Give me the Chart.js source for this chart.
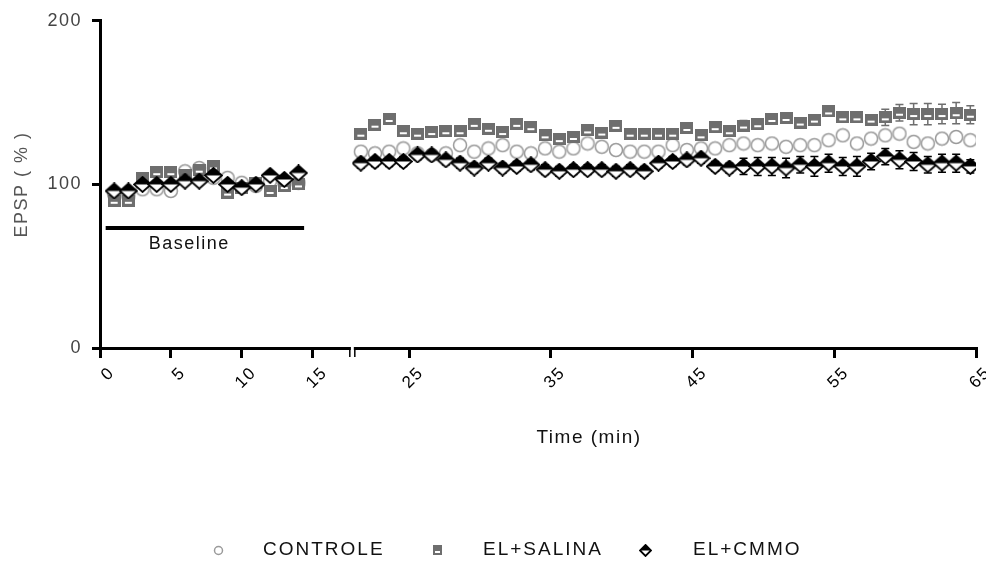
<!DOCTYPE html>
<html>
<head>
<meta charset="utf-8">
<script src="https://cdn.jsdelivr.net/npm/chart.js@4.4.1/dist/chart.umd.min.js"></script>
<style>
html, body { margin: 0; padding: 0; background: #fff; }
#wrap { position: relative; width: 986px; height: 563px; }
</style>
</head>
<body>
<div id="wrap"><canvas id="c" width="986" height="563"></canvas></div>
<script>
// series names
var seriesNames = ['CONTROLE', 'EL+SALINA', 'EL+CMMO'];

// baseline period (min)
var baseTimes = [1, 2, 3, 4, 5, 6, 7, 8, 9, 10, 11, 12, 13, 14];
var controleBase = [94, 93, 97, 97, 96, 108, 110, 104, 104, 101, 99, 102, 101, 101];
var salinaBase = [90, 90, 104, 107.5, 107.5, 106, 109, 111, 95, 98, 101, 96, 99, 100];
var cmmoBase = [96, 96, 100, 100, 100, 102, 102, 105.5, 100, 98, 100, 105.5, 103, 107];

// after stimulation (min)
var postTimes = [21.6, 22.6, 23.6, 24.6, 25.6, 26.6, 27.6, 28.6, 29.6, 30.6, 31.6,
  32.6, 33.6, 34.6, 35.6, 36.6, 37.6, 38.6, 39.6, 40.6, 41.6, 42.6, 43.6, 44.6,
  45.6, 46.6, 47.6, 48.6, 49.6, 50.6, 51.6, 52.6, 53.6, 54.6, 55.6, 56.6, 57.6,
  58.6, 59.6, 60.6, 61.6, 62.6, 63.6, 64.6];
var controlePost = [120, 119, 120, 122, 119, 118, 119, 124, 120, 122, 124, 120, 119, 122,
  120, 122, 125, 123, 121, 120, 120, 120, 124, 121, 122, 122, 124, 125,
  124, 125, 123, 124, 124, 127, 130, 125, 128, 130, 131, 126, 125, 128, 129, 127];
var salinaPost = [131, 136.5, 140, 132.5, 131, 132, 132.5, 132.5, 137, 134, 132, 137, 135, 130,
  127.7, 129, 133, 131.7, 135.8, 131, 131, 131, 131, 134.5, 130, 135, 132.5, 136,
  136.8, 140, 140.6, 137.8, 139.6, 144.6, 141, 141, 139.6, 141, 143.8, 143, 143, 143, 143.5, 142.6];
var cmmoPost = [113, 114, 114, 114, 118, 118, 115, 113, 110, 113, 110, 111, 112, 109,
  108, 109, 109, 109, 108, 109, 108, 113, 114, 115, 116, 111, 110, 111,
  111, 111, 110, 112, 111, 113, 111, 111, 114, 117, 115, 114, 112, 113, 113, 111];

// SEM (only the larger ones show past the markers)
var salinaPostSem = [3, 3, 3, 3, 3, 3, 3, 3, 3, 3, 3, 3, 3, 3,
  3, 3, 3, 3, 3, 3, 3, 3, 3, 3, 3, 3, 3, 3,
  3, 3, 3, 3, 3, 3, 3, 3, 3, 5, 5, 6.5, 6.5, 6, 6.5, 5.5];
var cmmoPostSem = [3, 3, 3, 3, 3, 3, 3, 3, 3, 3, 3, 3, 3, 3,
  3, 3, 3, 3, 3, 3, 3, 3, 3, 3, 3, 3, 3, 5,
  5.5, 5.5, 6, 5, 6, 5.5, 5.5, 6, 5, 5, 5.5, 5.5, 5, 5.5, 5.5, 4];

// baseline bar
var baselineX = [0.4, 14.4];
var baselineY = [73.3, 73.3];

// ticks
var leftTicks = [0, 5, 10, 15];
var rightTicks = [25, 35, 45, 55, 65];
var yTicks = [0, 100, 200];

var FONT = "'Liberation Sans', Arial, sans-serif";
Chart.defaults.font.family = FONT;

// marker glyphs
function circleMark(d) {
  var c = document.createElement('canvas');
  c.width = d + 3; c.height = d + 3;
  var g = c.getContext('2d');
  g.beginPath();
  g.arc(c.width / 2, c.height / 2, d / 2, 0, Math.PI * 2);
  g.fillStyle = '#fff'; g.fill();
  g.lineWidth = 1.5; g.strokeStyle = '#9a9a9a'; g.stroke();
  return c;
}
function squareMark(w, h) {
  var c = document.createElement('canvas');
  c.width = w; c.height = h;
  var g = c.getContext('2d');
  g.fillStyle = '#6e6e6e'; g.fillRect(0, 0, w, h);
  g.fillStyle = '#fff'; g.fillRect(Math.round(w * 0.22), Math.round(h * 0.55), Math.round(w * 0.56), Math.max(2, Math.round(h * 0.18)));
  return c;
}
function diamondMark(w, h) {
  var c = document.createElement('canvas');
  c.width = w + 2; c.height = h + 2;
  var g = c.getContext('2d');
  var cx = c.width / 2, cy = c.height / 2;
  g.beginPath();
  g.moveTo(cx, 1); g.lineTo(cx + w / 2, cy); g.lineTo(cx, cy + h / 2); g.lineTo(cx - w / 2, cy); g.closePath();
  g.fillStyle = '#fff'; g.fill();
  g.lineWidth = 1.8; g.strokeStyle = '#000'; g.stroke();
  g.beginPath();
  g.moveTo(cx, 1); g.lineTo(cx + w / 2, cy); g.lineTo(cx - w / 2, cy); g.closePath();
  g.fillStyle = '#000'; g.fill();
  return c;
}

var circleImg = circleMark(13), squareImg = squareMark(13, 12), diamondImg = diamondMark(17, 15);
var legendImgs = [circleMark(8), squareMark(9, 10), diamondMark(11, 11)];

function pts(xs, ys) {
  return xs.map(function (x, i) { return { x: x, y: ys[i] }; });
}
function markSet(label, xs, ys, img, axis, order, sem, semColor) {
  return { label: label, data: pts(xs, ys), xAxisID: axis, pointStyle: img, pointRadius: 7, order: order, showLine: false, sem: sem, semColor: semColor };
}

function fixTicks(list) {
  return function (scale) { scale.ticks = list.map(function (v) { return { value: v }; }); };
}

var xCommon = function (min, max, weight, ticks) {
  return {
    type: 'linear', position: 'bottom', stack: 'time', stackWeight: weight,
    min: min, max: max,
    afterBuildTicks: fixTicks(ticks),
    afterFit: function (s) { s.height = 62; s.paddingLeft = 0; s.paddingRight = 0; },
    grid: { drawOnChartArea: false, color: '#000', lineWidth: 3, tickLength: 10 },
    border: { color: '#000', width: 3 },
    ticks: { minRotation: 45, maxRotation: 45, color: '#000', padding: 5, labelOffset: 12, font: { size: 17 } }
  };
};

// error bars, drawn under the markers
var errorBars = {
  id: 'errorBars',
  beforeDatasetsDraw: function (chart) {
    var ctx = chart.ctx, y = chart.scales.y;
    ctx.save();
    ctx.lineWidth = 1.5;
    chart.data.datasets.forEach(function (ds, di) {
      if (!ds.sem) return;
      var xs = chart.scales[ds.xAxisID];
      ctx.strokeStyle = ds.semColor;
      ds.data.forEach(function (p, i) {
        var px = xs.getPixelForValue(p.x);
        var hi = y.getPixelForValue(p.y + ds.sem[i]), lo = y.getPixelForValue(p.y - ds.sem[i]);
        ctx.beginPath();
        ctx.moveTo(px, hi); ctx.lineTo(px, lo);
        ctx.moveTo(px - 4, hi); ctx.lineTo(px + 4, hi);
        ctx.moveTo(px - 4, lo); ctx.lineTo(px + 4, lo);
        ctx.stroke();
      });
    });
    ctx.restore();
  }
};

var breakMarks = {
  id: 'breakMarks',
  beforeUpdate: function (chart) { chart.ctx.letterSpacing = '1.5px'; },
  beforeDraw: function (chart) { chart.ctx.letterSpacing = '1.5px'; },
  afterDraw: function (chart) {
    var ctx = chart.ctx, xl = chart.scales.xL, y = chart.scales.y;
    var bx = xl.right, by = chart.chartArea.bottom;
    ctx.save();
    // axis break
    ctx.fillStyle = '#fff';
    ctx.fillRect(bx - 1.5, by - 3, 3, 7);
    ctx.strokeStyle = '#000'; ctx.lineWidth = 1.5;
    ctx.beginPath();
    ctx.moveTo(bx - 2.5, by - 1); ctx.lineTo(bx - 2.5, by + 9);
    ctx.moveTo(bx + 2.5, by - 1); ctx.lineTo(bx + 2.5, by + 9);
    ctx.stroke();

    // baseline label
    ctx.fillStyle = '#111';
    ctx.font = '18px ' + FONT;
    ctx.letterSpacing = '1.5px';
    ctx.textAlign = 'center'; ctx.textBaseline = 'middle';
    ctx.fillText('Baseline', xl.getPixelForValue(6.3), y.getPixelForValue(63.5));

    // x title
    ctx.font = '19px ' + FONT;
    ctx.fillText('Time (min)', 589, 438);

    // legend
    var mx = [218, 437, 645], tx = [263, 483, 693];
    ctx.textAlign = 'left';
    ctx.letterSpacing = '2px';
    for (var i = 0; i < seriesNames.length; i++) {
      var im = legendImgs[i];
      ctx.drawImage(im, Math.round(mx[i] - im.width / 2), Math.round(550 - im.height / 2));
      ctx.fillText(seriesNames[i], tx[i], 550);
    }
    ctx.restore();
  }
};

new Chart(document.getElementById('c'), {
  type: 'scatter',
  data: {
    datasets: [
      { label: 'Baseline', type: 'line', data: pts(baselineX, baselineY), xAxisID: 'xL', borderColor: '#000', borderWidth: 4, pointRadius: 0, showLine: true, order: 0 },
      markSet(seriesNames[2], baseTimes, cmmoBase, diamondImg, 'xL', 1),
      markSet(seriesNames[2], postTimes, cmmoPost, diamondImg, 'xR', 1, cmmoPostSem, '#000'),
      markSet(seriesNames[1], baseTimes, salinaBase, squareImg, 'xL', 2),
      markSet(seriesNames[1], postTimes, salinaPost, squareImg, 'xR', 2, salinaPostSem, '#6e6e6e'),
      markSet(seriesNames[0], baseTimes, controleBase, circleImg, 'xL', 3),
      markSet(seriesNames[0], postTimes, controlePost, circleImg, 'xR', 3)
    ]
  },
  options: {
    responsive: false,
    animation: false,
    layout: { padding: { top: 7, right: 10, bottom: 153, left: 0 } },
    plugins: { legend: { display: false }, tooltip: { enabled: false } },
    scales: {
      xL: xCommon(0, 17.8, 17.8, leftTicks),
      xR: xCommon(21, 65, 44, rightTicks),
      y: {
        type: 'linear', position: 'left', min: 0, max: 200,
        afterBuildTicks: fixTicks(yTicks),
        afterFit: function (s) { s.width = 100; },
        grid: { drawOnChartArea: false, color: '#000', lineWidth: 3, tickLength: 8 },
        border: { color: '#000', width: 3 },
        ticks: { color: '#444', padding: 10, font: { size: 18 } },
        title: { display: true, text: 'EPSP ( % )', color: '#555', font: { size: 18 }, padding: { top: 11, bottom: 0 } }
      }
    }
  },
  plugins: [errorBars, breakMarks]
});
</script>
</body>
</html>
